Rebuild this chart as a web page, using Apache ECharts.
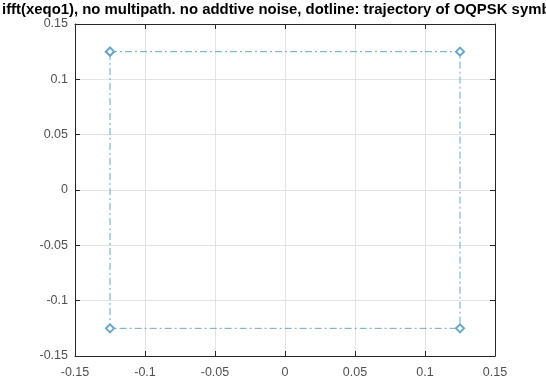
<!DOCTYPE html>
<html><head><meta charset="utf-8">
<script src="https://cdn.jsdelivr.net/npm/echarts@6/dist/echarts.min.js"></script>
<style>html,body{margin:0;padding:0;background:#fff}#c{width:546px;height:383px}</style>
</head><body><div id="c"></div>
<script>
const titleText = 'ifft(xeqo1), no multipath. no addtive noise, dotline: trajectory of OQPSK symbols';
const xTicks = [-0.15, -0.1, -0.05, 0, 0.05, 0.1, 0.15];
const yTicks = [-0.15, -0.1, -0.05, 0, 0.05, 0.1, 0.15];
const trajX = [-0.125, 0.125, 0.125, -0.125, -0.125];
const trajY = [0.125, 0.125, -0.125, -0.125, 0.125];

const fmt = v => { const r = Math.round(v*100)/100; return r === 0 ? '0' : String(r); };
const chart = echarts.init(document.getElementById('c'));
const lineCol = '#6aa6c6';
const axisCommon = {
  type: 'value', min: -0.15, max: 0.15, interval: 0.05,
  axisLine: {show: true, onZero: false, lineStyle: {color: '#262626', width: 1}},
  axisTick: {show: true, inside: true, length: 5, lineStyle: {color: '#262626'}},
  splitLine: {show: true, lineStyle: {color: '#e3e3e3', width: 1}},
  axisLabel: {show: true, color: '#505050', fontFamily: 'Liberation Sans, Arial', fontSize: 12.5, formatter: fmt}
};
chart.setOption({
  animation: false,
  title: {text: titleText, left: 2, top: 2, padding: 0, textStyle: {fontFamily: 'Liberation Sans, Arial', fontWeight: 'bold', fontSize: 14.9, color: '#000'}},
  grid: {left: 75, right: 51, top: 24, bottom: 27},
  xAxis: [
    Object.assign({}, axisCommon, {position: 'bottom', axisLabel: Object.assign({}, axisCommon.axisLabel, {margin: 10})}),
    Object.assign({}, axisCommon, {position: 'top', axisLabel: {show: false}, splitLine: {show: false}})
  ],
  yAxis: [
    Object.assign({}, axisCommon, {position: 'left', axisLabel: Object.assign({}, axisCommon.axisLabel, {margin: 7, padding: [3, 0, 0, 0]})}),
    Object.assign({}, axisCommon, {position: 'right', axisLabel: {show: false}, splitLine: {show: false}})
  ],
  series: [{
    type: 'line',
    data: trajX.map((x, i) => [x, trajY[i]]),
    symbol: 'emptyDiamond', symbolSize: 8,
    lineStyle: {color: lineCol, width: 1, type: [7, 3, 2, 3]},
    itemStyle: {color: lineCol, borderColor: lineCol, borderWidth: 1},
    clip: false
  }]
});
</script></body></html>
